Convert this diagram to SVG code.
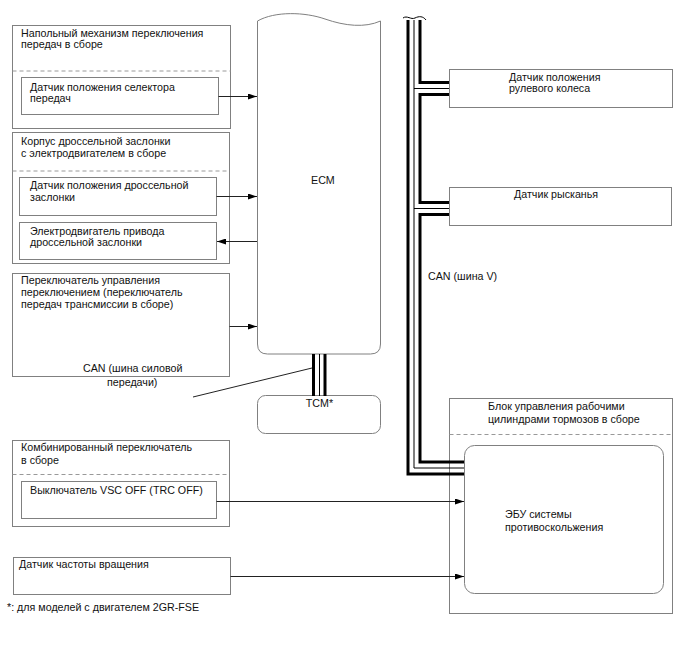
<svg xmlns="http://www.w3.org/2000/svg" width="688" height="658" viewBox="0 0 688 658">
<style>
text{font-family:"Liberation Sans",Arial,sans-serif;font-size:10.7px;fill:#111}
.box{fill:#fff;stroke:#808080;stroke-width:1}
.dash{stroke:#999;stroke-width:1;stroke-dasharray:4,3;fill:none}
.conn{stroke:#222;stroke-width:1;fill:none}
.thick{stroke:#000;stroke-width:3;fill:none}
.thin{stroke:#000;stroke-width:1;fill:none}
</style>
<defs>
<marker id="arr" markerUnits="userSpaceOnUse" markerWidth="9" markerHeight="6" refX="9" refY="3" orient="auto">
<path d="M0,0 L9,3 L0,6 z" fill="#000"/>
</marker>
</defs>
<rect width="688" height="658" fill="#fff"/>

<g id="floor-shift">
<rect class="box" x="12.5" y="25.5" width="218" height="103"/>
<text x="21" y="36.5">Напольный механизм переключения</text>
<text x="21" y="48">передач в сборе</text>
<line class="dash" x1="12.5" y1="71" x2="230.5" y2="71"/>
<rect class="box" x="21.5" y="77.5" width="197" height="37"/>
<text x="30" y="90.5">Датчик положения селектора</text>
<text x="30" y="102">передач</text>
</g>

<g id="throttle-body">
<rect class="box" x="12.5" y="132.5" width="217" height="131"/>
<text x="21" y="144.5">Корпус дроссельной заслонки</text>
<text x="21" y="156.5">с электродвигателем в сборе</text>
<line class="dash" x1="12.5" y1="171" x2="229.5" y2="171"/>
<rect class="box" x="19.5" y="177.5" width="197" height="38"/>
<text x="30" y="189">Датчик положения дроссельной</text>
<text x="30" y="200.5">заслонки</text>
<rect class="box" x="19.5" y="222.5" width="197" height="37"/>
<text x="30" y="235">Электродвигатель привода</text>
<text x="30" y="246">дроссельной заслонки</text>
</g>

<g id="shift-switch">
<rect class="box" x="12.5" y="273.5" width="217" height="103"/>
<text x="21" y="283.5">Переключатель управления</text>
<text x="21" y="295.5">переключением (переключатель</text>
<text x="21" y="307.5">передач трансмиссии в сборе)</text>
</g>

<g id="ecm">
<path class="box" d="M257.5,21 C275,11 305,12 325,19 C345,26 365,28 380.5,21 L380.5,344 Q380.5,354 370.5,354 L267.5,354 Q257.5,354 257.5,344 Z"/>
<text x="311" y="184">ECM</text>
</g>

<g id="tcm">
<rect class="box" x="257.5" y="395.5" width="123" height="38" rx="8"/>
<text x="319.5" y="407" text-anchor="middle">TCM*</text>
</g>

<g id="combo-switch">
<rect class="box" x="12.5" y="440.5" width="217" height="86"/>
<text x="21" y="451">Комбинированный переключатель</text>
<text x="21" y="463.5">в сборе</text>
<line class="dash" x1="12.5" y1="474.5" x2="229.5" y2="474.5"/>
<rect class="box" x="21.5" y="481.5" width="195" height="37"/>
<text x="30" y="493.5">Выключатель VSC OFF (TRC OFF)</text>
</g>

<g id="speed-sensor">
<rect class="box" x="13.5" y="557.5" width="217" height="37"/>
<text x="19" y="567.5">Датчик частоты вращения</text>
</g>

<g id="steering-sensor">
<rect class="box" x="449.5" y="69.5" width="223" height="38"/>
<text x="509" y="81">Датчик положения</text>
<text x="509" y="92">рулевого колеса</text>
</g>

<g id="yaw-sensor">
<rect class="box" x="449.5" y="187.5" width="222" height="38"/>
<text x="514" y="197.5">Датчик рысканья</text>
</g>

<g id="brake-actuator">
<rect class="box" x="449.5" y="398.5" width="223" height="215"/>
<text x="488" y="410">Блок управления рабочими</text>
<text x="488" y="422.5">цилиндрами тормозов в сборе</text>
<line class="dash" x1="449.5" y1="434.5" x2="672.5" y2="434.5"/>
<rect class="box" x="464.5" y="445.5" width="199" height="148" rx="10"/>
<text x="505" y="517.5">ЭБУ системы</text>
<text x="505" y="531">противоскольжения</text>
</g>

<g id="connectors">
<line class="conn" x1="218.5" y1="96.5" x2="257" y2="96.5" marker-end="url(#arr)"/>
<line class="conn" x1="216.5" y1="196.5" x2="257" y2="196.5" marker-end="url(#arr)"/>
<line class="conn" x1="257" y1="241.5" x2="217" y2="241.5" marker-end="url(#arr)"/>
<line class="conn" x1="229.5" y1="326.5" x2="257" y2="326.5" marker-end="url(#arr)"/>
<line class="conn" x1="216.5" y1="501.5" x2="464" y2="501.5" marker-end="url(#arr)"/>
<line class="conn" x1="230.5" y1="576.5" x2="464" y2="576.5" marker-end="url(#arr)"/>

<line class="thick" x1="313.5" y1="354" x2="313.5" y2="396"/>
<line class="thin" x1="319.5" y1="354" x2="319.5" y2="396"/>
<line class="thick" x1="325" y1="354" x2="325" y2="396"/>
<line class="conn" x1="193" y1="397" x2="312" y2="368"/>

<path class="thin" d="M403,18 C407,15 411,20 415,18 C419,16 423,16 426,20"/>
<path class="thick" d="M408,20 L408,474 L464,474"/>
<path class="thin" d="M414,20 L414,468 L464,468"/>
<line class="thin" x1="414" y1="88.5" x2="449" y2="88.5"/>
<line class="thin" x1="414" y1="208.5" x2="449" y2="208.5"/>
<path class="thick" d="M420,20 L420,82.5 L449,82.5"/>
<path class="thick" d="M449,94.5 L420,94.5 L420,202.5 L449,202.5"/>
<path class="thick" d="M449,214.5 L420,214.5 L420,462 L464,462"/>
</g>

<text x="428" y="279.5">CAN (шина V)</text>
<text x="83" y="372">CAN (шина силовой</text>
<text x="107" y="386">передачи)</text>
<text x="7" y="611">*: для моделей с двигателем 2GR-FSE</text>
</svg>
